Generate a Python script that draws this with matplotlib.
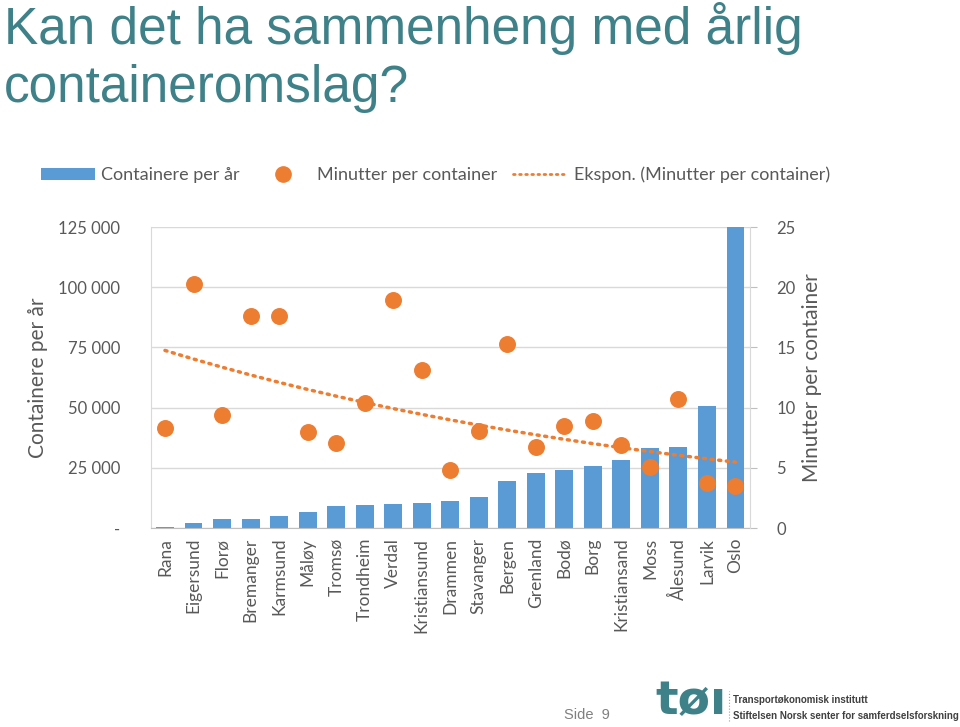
import numpy as np
import matplotlib
matplotlib.use("Agg")
import matplotlib.pyplot as plt
from matplotlib.lines import Line2D
from matplotlib.patches import Patch

# data
havner = ["Rana", "Eigersund", "Florø", "Bremanger", "Karmsund", "Måløy", "Tromsø",
          "Trondheim", "Verdal", "Kristiansund", "Drammen", "Stavanger", "Bergen",
          "Grenland", "Bodø", "Borg", "Kristiansand", "Moss", "Ålesund", "Larvik", "Oslo"]
containere = [400, 2200, 3600, 3900, 5100, 6800, 9000, 9600, 9900, 10400, 11100,
              13000, 19400, 23000, 24200, 25700, 28300, 33300, 33600, 50600, 125000]
minutter = [8.3, 20.3, 9.4, 17.6, 17.6, 8.0, 7.1, 10.4, 18.9, 13.1, 4.8,
            8.1, 15.3, 6.7, 8.5, 8.9, 6.9, 5.1, 10.7, 3.7, 3.5]
left_ticks = [0, 25000, 50000, 75000, 100000, 125000]
left_labels = ["-", "25 000", "50 000", "75 000", "100 000", "125 000"]
right_ticks = [0, 5, 10, 15, 20, 25]

BLUE = "#5B9BD5"
ORANGE = "#ED7D31"
TEAL = "#3E8189"
GREY = "#595959"
FONT = "Lato"

fig = plt.figure(figsize=(9.6, 7.27), dpi=100)
ax = fig.add_axes([0.157, 0.2737, 0.624, 0.414])
ax2 = ax.twinx()

x = np.arange(len(havner))
ax.bar(x, containere, width=0.63, color=BLUE, zorder=2)
ax.set_ylim(0, 125000)
ax.set_xlim(-0.5, len(havner) - 0.5)
ax.set_yticks(left_ticks)
ax.set_yticklabels(left_labels)
ax.grid(axis="y", color="#D9D9D9", lw=1, zorder=0)
ax.set_axisbelow(True)
ax.set_xticks(x)
ax.set_xticklabels(havner, rotation=90, fontsize=12.5, color=GREY, family=FONT)
ax.tick_params(axis="x", length=0, pad=7)
ax.tick_params(axis="y", length=0, pad=22, labelsize=12, labelcolor=GREY)
for lab in ax.get_yticklabels():
    lab.set_family(FONT)
for s in ["top", "right"]:
    ax.spines[s].set_visible(False)
ax.spines["left"].set_color("#D9D9D9")
ax.spines["bottom"].set_color("#BFBFBF")
ax.set_ylabel("Containere per år", fontsize=15, color=GREY, family=FONT, labelpad=7)

# exponential trendline (Excel style: ln y = a + b*x)
xi = x + 1
b, a = np.polyfit(xi, np.log(minutter), 1)
trend = np.exp(a + b * xi)

ax2.scatter(x, minutter, s=125, color=ORANGE, zorder=3)
ax2.plot(x, trend, color=ORANGE, lw=2.5, ls=(0, (0.6, 1.6)), dash_capstyle="round", zorder=3)
ax2.set_ylim(0, 25)
ax2.set_yticks(right_ticks)
ax2.tick_params(axis="y", length=5, color="#BFBFBF", pad=14, labelsize=12, labelcolor=GREY)
for lab in ax2.get_yticklabels():
    lab.set_family(FONT)
for s in ["top", "left", "bottom"]:
    ax2.spines[s].set_visible(False)
ax2.spines["right"].set_color("#D9D9D9")
ax2.set_ylabel("Minutter per container", fontsize=15, color=GREY, family=FONT, labelpad=5)

handles = [
    Patch(facecolor=BLUE, edgecolor="none"),
    Line2D([], [], marker="o", ls="none", color=ORANGE, markersize=11),
    Line2D([], [], color=ORANGE, lw=2, ls=(0, (0.6, 1.6)), dash_capstyle="round"),
]
labels = ["Containere per år", "Minutter per container", "Ekspon. (Minutter per container)"]
fig.legend(handles, labels, loc="center", bbox_to_anchor=(0.4536, 0.759), ncol=3,
           frameon=False, prop={"family": FONT, "size": 13}, labelcolor=GREY,
           handlelength=3, handleheight=0.6, columnspacing=0.9, handletextpad=0.35)

fig.text(0.004, 0.997, "Kan det ha sammenheng med årlig\ncontaineromslag?", ha="left", va="top",
         fontsize=37, color=TEAL, family="Liberation Sans", linespacing=1.22)

# footer
fig.text(0.587, 0.017, "Side  9", fontsize=10.5, color="#808080", family="Liberation Sans",
         ha="left", va="center")
fig.text(0.683, 0.004, "tøı", fontsize=34, color=TEAL, family="DejaVu Sans", weight="bold",
         ha="left", va="bottom")
fig.text(0.764, 0.030, "Transportøkonomisk institutt", fontsize=7.0, color="#404040",
         family="Liberation Sans", weight="bold", ha="left", va="bottom")
fig.text(0.764, 0.008, "Stiftelsen Norsk senter for samferdselsforskning", fontsize=7.0,
         color="#404040", family="Liberation Sans", weight="bold", ha="left", va="bottom")
fig.add_artist(Line2D([0.759, 0.759], [0.008, 0.05], color="#A0A0A0", lw=0.8, ls=":",
                      transform=fig.transFigure))

fig.savefig("out.png", dpi=100, facecolor="white")
